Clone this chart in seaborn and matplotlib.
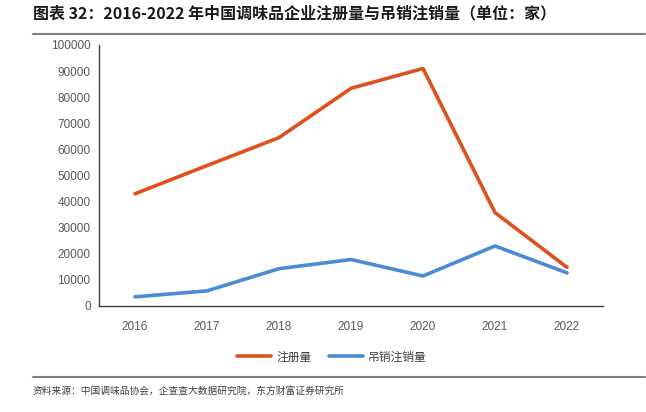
import numpy as np
import pandas as pd
import matplotlib
matplotlib.use("Agg")
import matplotlib.pyplot as plt
import seaborn as sns
from matplotlib.ticker import FixedLocator

# Data
years = ["2016", "2017", "2018", "2019", "2020", "2021", "2022"]
registered = [43000, 53800, 64500, 83400, 91000, 35800, 14800]
cancelled = [3500, 5800, 14300, 17800, 11500, 23000, 12700]
series_names = ["注册量", "吊销注销量"]
palette = ["#E0501E", "#4A8BD6"]

df = pd.DataFrame({
    "year": years * 2,
    "value": registered + cancelled,
    "series": [series_names[0]] * len(years) + [series_names[1]] * len(years),
})

sns.set_style("white")
plt.rcParams['font.family'] = ['Liberation Sans', 'Noto Sans CJK SC', 'DejaVu Sans']

fig = plt.figure(figsize=(6.46, 4.12), dpi=100)
ax = fig.add_axes([99 / 646, 1 - 306 / 412, 504 / 646, 261 / 412])

sns.lineplot(data=df, x="year", y="value", hue="series", palette=palette,
             linewidth=2.6, sort=False, ax=ax, legend=True)

ax.set_xlim(-0.5, len(years) - 0.5)
ax.set_ylim(0, 100000)
ax.set_yticks(np.arange(0, 100001, 10000))
ax.set_xlabel("")
ax.set_ylabel("")

for s in ["top", "right"]:
    ax.spines[s].set_visible(False)
for s in ["left", "bottom"]:
    ax.spines[s].set_color("#404040")
    ax.spines[s].set_linewidth(1.0)

ax.tick_params(axis="y", which="major", direction="out", length=3, width=0.8,
               color="#404040", labelsize=8.5, labelcolor="#595959", pad=3)
ax.tick_params(axis="x", which="major", length=0, labelsize=8.5,
               labelcolor="#595959", pad=11)
ax.xaxis.set_minor_locator(FixedLocator(np.arange(-0.5, len(years), 1.0)))
ax.tick_params(axis="x", which="minor", direction="out", length=4, width=0.8,
               color="#404040")
ax.grid(False)

leg = ax.legend(loc="upper center", bbox_to_anchor=(0.462, -0.13), ncol=2,
                frameon=False, handlelength=2.9, handletextpad=0.4,
                columnspacing=1.5,
                prop={'family': ['Noto Sans CJK SC'], 'size': 8.5})
for t in leg.get_texts():
    t.set_color("#404040")

# Title and source
fig.text(33 / 646, 1 - 13 / 412,
         "图表 32：2016-2022 年中国调味品企业注册量与吊销注销量（单位：家）",
         fontsize=11.5, fontweight="bold", va="center", ha="left",
         family=['Noto Sans CJK SC', 'DejaVu Sans'], color="#1a1a1a")
fig.add_artist(plt.Line2D([33 / 646, 645 / 646], [1 - 34 / 412, 1 - 34 / 412],
                          color="#808080", linewidth=1.5))
fig.add_artist(plt.Line2D([33 / 646, 645 / 646], [1 - 377 / 412, 1 - 377 / 412],
                          color="#808080", linewidth=1.5))
fig.text(33 / 646, 1 - 391 / 412,
         "资料来源：中国调味品协会，企查查大数据研究院，东方财富证券研究所",
         fontsize=7, va="center", ha="left",
         family=['Noto Sans CJK SC', 'DejaVu Sans'], color="#404040")

fig.savefig("out.png", dpi=100)
